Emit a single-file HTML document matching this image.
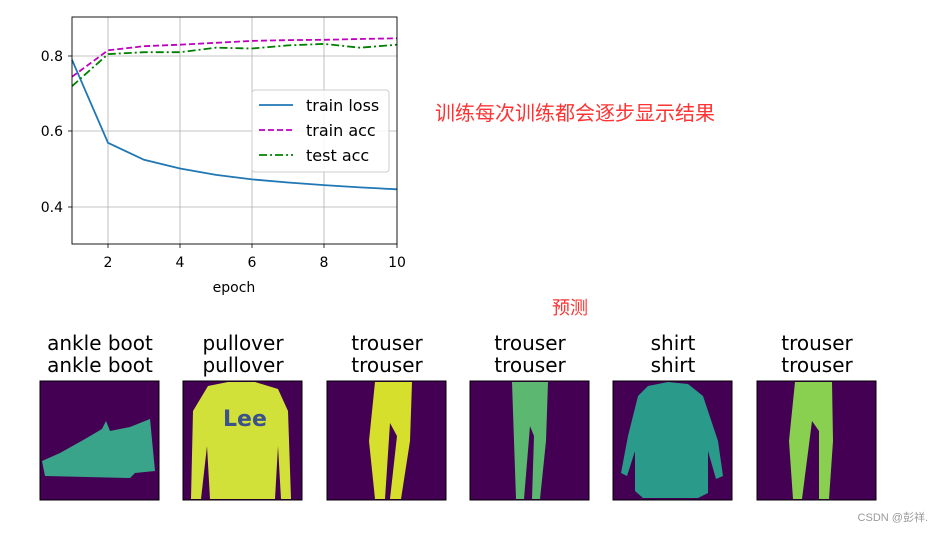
<!DOCTYPE html>
<html><head><meta charset="utf-8"><style>
body{margin:0;background:#fff;}
svg{display:block;font-family:"DejaVu Sans","Liberation Sans",sans-serif;}
</style></head><body>
<svg width="943" height="533" viewBox="0 0 943 533" xmlns="http://www.w3.org/2000/svg">
<g stroke="#b0b0b0" stroke-width="0.8">
<line x1="108" y1="17" x2="108" y2="244"/><line x1="180" y1="17" x2="180" y2="244"/>
<line x1="252" y1="17" x2="252" y2="244"/><line x1="324" y1="17" x2="324" y2="244"/>
<line x1="72" y1="56" x2="397" y2="56"/><line x1="72" y1="131" x2="397" y2="131"/><line x1="72" y1="207" x2="397" y2="207"/>
</g>
<polyline fill="none" stroke="#1f77b4" stroke-width="1.8" points="72,59.8 108,142.8 144,159.8 180,168.5 216,174.9 252,179.4 288,182.5 324,185.1 360,187.4 397,189.3"/>
<polyline fill="none" stroke="#bf00bf" stroke-width="1.8" stroke-dasharray="6,3" points="72,76.8 108,50.3 144,46.2 180,44.7 216,42.8 252,40.9 288,40.1 324,39.8 360,39 397,38.3"/>
<polyline fill="none" stroke="#008000" stroke-width="1.8" stroke-dasharray="8,3,2,3" points="72,86.2 108,54.1 144,52.2 180,52.2 216,47.7 252,48.5 288,45.4 324,43.9 360,47.7 397,44.7"/>
<rect x="72" y="17" width="325" height="227" fill="none" stroke="#000" stroke-width="0.9"/>
<g stroke="#000" stroke-width="0.8">
<line x1="108" y1="244" x2="108" y2="248"/><line x1="180" y1="244" x2="180" y2="248"/><line x1="252" y1="244" x2="252" y2="248"/><line x1="324" y1="244" x2="324" y2="248"/><line x1="397" y1="244" x2="397" y2="248"/>
<line x1="68" y1="56" x2="72" y2="56"/><line x1="68" y1="131" x2="72" y2="131"/><line x1="68" y1="207" x2="72" y2="207"/>
</g>
<g font-size="14" fill="#000">
<text x="108" y="267" text-anchor="middle">2</text><text x="180" y="267" text-anchor="middle">4</text><text x="252" y="267" text-anchor="middle">6</text><text x="324" y="267" text-anchor="middle">8</text><text x="397" y="267" text-anchor="middle">10</text>
<text x="234" y="292" text-anchor="middle">epoch</text>
<text x="63" y="61" text-anchor="end">0.8</text><text x="63" y="136" text-anchor="end">0.6</text><text x="63" y="212" text-anchor="end">0.4</text>
</g>
<rect x="252" y="90" width="137" height="82" rx="3" fill="#fff" fill-opacity="0.85" stroke="#ccc"/>
<line x1="259" y1="105" x2="293" y2="105" stroke="#1f77b4" stroke-width="1.8"/>
<line x1="259" y1="130" x2="293" y2="130" stroke="#bf00bf" stroke-width="1.8" stroke-dasharray="6,3"/>
<line x1="259" y1="155" x2="293" y2="155" stroke="#008000" stroke-width="1.8" stroke-dasharray="8,3,2,3"/>
<g font-size="16" fill="#000"><text x="306" y="111">train loss</text><text x="306" y="136">train acc</text><text x="306" y="161">test acc</text></g>
<text x="435" y="120" font-size="20" fill="#ff3333" font-family="'Noto Sans CJK SC',sans-serif">训练每次训练都会逐步显示结果</text>
<text x="552" y="314" font-size="18" fill="#ff3333" font-family="'Noto Sans CJK SC',sans-serif">预测</text>
<g font-size="20" fill="#000" text-anchor="middle">
<text x="100" y="350">ankle boot</text><text x="100" y="372">ankle boot</text>
<text x="243" y="350">pullover</text><text x="243" y="372">pullover</text>
<text x="387" y="350">trouser</text><text x="387" y="372">trouser</text>
<text x="530" y="350">trouser</text><text x="530" y="372">trouser</text>
<text x="673" y="350">shirt</text><text x="673" y="372">shirt</text>
<text x="817" y="350">trouser</text><text x="817" y="372">trouser</text>
</g>
<g transform="translate(40,381)"><rect width="119" height="119" fill="#440154" stroke="#000"/>
<polygon fill="#3aa48a" points="2,80 20,72 45,58 62,48 66,40 70,50 90,46 110,38 115,90 95,92 90,97 5,95"/></g>
<g transform="translate(183,381)"><rect width="119" height="119" fill="#440154" stroke="#000"/>
<polygon fill="#d2e13a" points="25,5 45,1 72,1 95,8 105,30 108,118 98,118 95,65 92,118 27,118 24,65 18,118 8,118 10,30"/>
<text x="40" y="45" font-size="22" font-weight="bold" fill="#3b528b">Lee</text></g>
<g transform="translate(327,381)"><rect width="119" height="119" fill="#440154" stroke="#000"/>
<polygon fill="#d6e02c" points="48,1 85,1 83,60 74,118 63,118 70,55 63,42 58,118 48,118 42,60"/></g>
<g transform="translate(470,381)"><rect width="119" height="119" fill="#440154" stroke="#000"/>
<polygon fill="#5cb870" points="42,1 78,1 76,60 70,118 62,118 64,55 60,45 54,118 46,118 44,60"/></g>
<g transform="translate(613,381)"><rect width="119" height="119" fill="#440154" stroke="#000"/>
<polygon fill="#2a9a8a" points="35,5 55,1 75,3 90,15 105,60 110,95 103,98 95,70 95,112 85,117 30,117 22,110 22,70 14,95 8,92 15,55 25,15"/></g>
<g transform="translate(757,381)"><rect width="119" height="119" fill="#440154" stroke="#000"/>
<polygon fill="#8ad050" points="38,1 75,1 76,60 72,118 62,118 62,50 55,40 45,118 36,118 32,60"/></g>
<text x="928" y="521" font-size="11" fill="#999" text-anchor="end" font-family="'Liberation Sans','Noto Sans CJK SC',sans-serif">CSDN @彭祥.</text>
</svg>
</body></html>
